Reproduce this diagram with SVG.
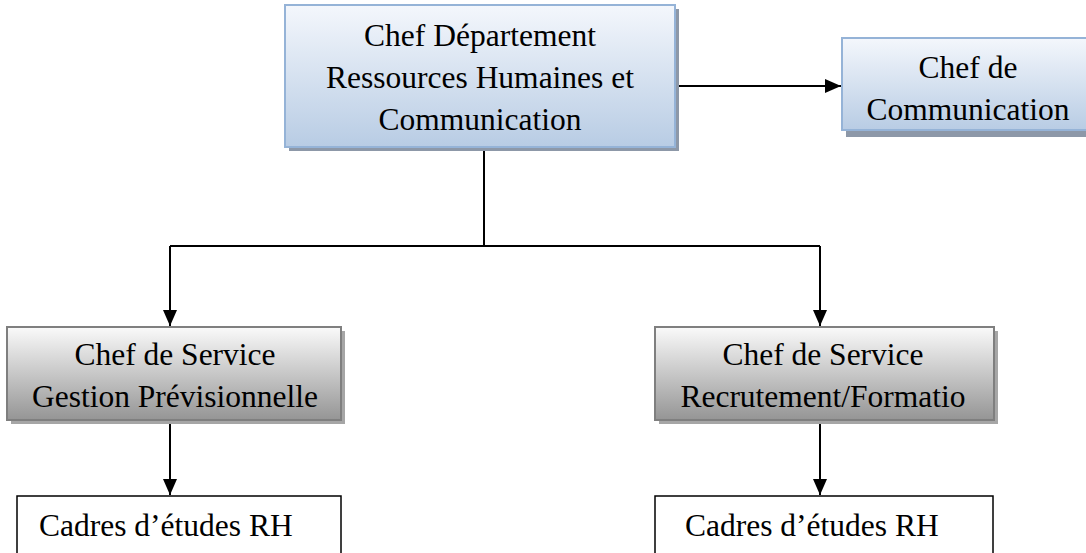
<svg xmlns="http://www.w3.org/2000/svg" width="1086" height="553" viewBox="0 0 1086 553">
<style>
text { font-family: "Liberation Serif", "Times New Roman", serif; font-size: 31.5px; fill: #000; }
.c { text-anchor: middle; }
.blue { fill: url(#gBlue); stroke: #95b3d7; stroke-width: 2; }
.grey { fill: url(#gGrey); stroke: #7f7f7f; stroke-width: 2; }
.white { fill: #fff; stroke: #000; stroke-width: 1.5; }
.shB { fill: #8d98a8; }
.shG { fill: #a6a6a6; }
.conn { fill: none; stroke: #000; stroke-width: 2; }
</style>
<defs>
<linearGradient id="gBlue" x1="0" y1="0" x2="0" y2="1">
<stop offset="0" stop-color="#f4f7fc"/>
<stop offset="1" stop-color="#b8cce4"/>
</linearGradient>
<linearGradient id="gGrey" x1="0" y1="0" x2="0" y2="1">
<stop offset="0" stop-color="#fafafa"/>
<stop offset="1" stop-color="#959595"/>
</linearGradient>
<marker id="arr" markerWidth="16" markerHeight="14" refX="16" refY="7" orient="auto" markerUnits="userSpaceOnUse">
<path d="M0,0 L16,7 L0,14 Z" fill="#000"/>
</marker>
</defs>
<rect width="1086" height="553" fill="#fff"/>
<g id="connectors">
<line class="conn" x1="676" y1="86" x2="841" y2="86" marker-end="url(#arr)"/>
<path class="conn" d="M484,148 V246"/>
<path class="conn" d="M170,246 H820"/>
<path class="conn" d="M170,246 V326" marker-end="url(#arr)"/>
<path class="conn" d="M820,246 V326" marker-end="url(#arr)"/>
<path class="conn" d="M170,421 V495" marker-end="url(#arr)"/>
<path class="conn" d="M820,421 V495" marker-end="url(#arr)"/>
</g>
<g id="chef-departement">
<rect class="shB" x="289" y="9" width="390" height="142"/>
<rect class="blue" x="285" y="5" width="390" height="142"/>
<text class="c" x="480" y="46">Chef Département</text>
<text class="c" x="480" y="88">Ressources Humaines et</text>
<text class="c" x="480" y="130">Communication</text>
</g>
<g id="chef-communication">
<rect class="shB" x="846" y="42" width="250" height="95"/>
<rect class="blue" x="842" y="38" width="250" height="92"/>
<text class="c" x="968" y="78">Chef de</text>
<text class="c" x="968" y="120">Communication</text>
</g>
<g id="service-gestion">
<rect class="shG" x="11" y="331" width="334" height="93"/>
<rect class="grey" x="7" y="327" width="334" height="93"/>
<text class="c" x="175" y="365">Chef de Service</text>
<text class="c" x="175" y="407">Gestion Prévisionnelle</text>
</g>
<g id="service-recrutement">
<rect class="shG" x="659" y="331" width="339" height="93"/>
<rect class="grey" x="655" y="327" width="339" height="93"/>
<text class="c" x="823" y="365">Chef de Service</text>
<text class="c" x="823" y="407">Recrutement/Formatio</text>
</g>
<g id="cadres-gauche">
<rect class="white" x="17" y="496" width="324" height="70"/>
<text x="39" y="536">Cadres d’études RH</text>
</g>
<g id="cadres-droite">
<rect class="white" x="655" y="496" width="338" height="70"/>
<text x="685" y="536">Cadres d’études RH</text>
</g>
</svg>
